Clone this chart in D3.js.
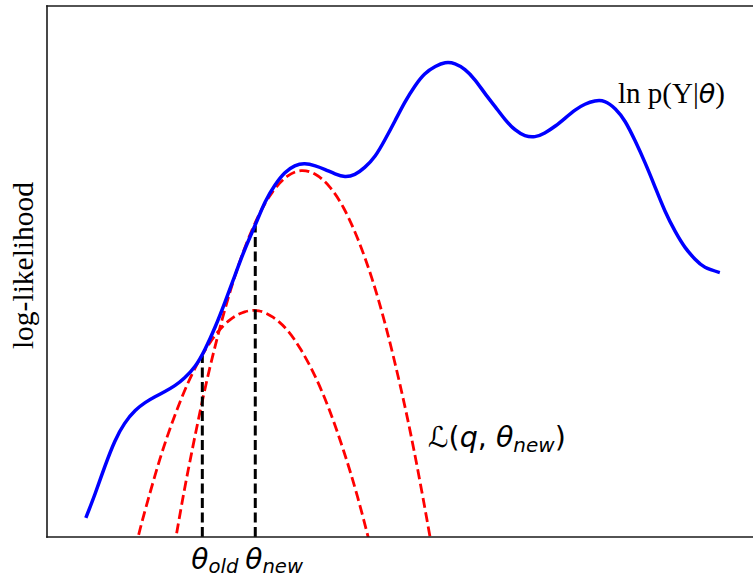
<!DOCTYPE html>
<html>
<head>
<meta charset="utf-8">
<script src="https://cdn.jsdelivr.net/npm/d3@7"></script>
<style>
  html, body { margin: 0; padding: 0; background: #fff; }
  svg { display: block; }
  .serif { font-family: "Liberation Serif", "Times New Roman", serif; }
  .math { font-family: "DejaVu Sans", sans-serif; }
</style>
</head>
<body>
<svg id="chart" width="753" height="578"></svg>
<script>
// Log-likelihood ln p(Y|θ) as a function of θ
const thetaLL = [0.55, 0.68, 0.82, 0.96, 1.10, 1.25, 1.39, 1.53, 1.67, 1.81,
  1.95, 2.10, 2.24, 2.38, 2.52, 2.66, 2.80, 2.95, 3.09, 3.23,
  3.37, 3.51, 3.65, 3.80, 3.94, 4.08, 4.22, 4.36, 4.50, 4.65,
  4.79, 4.93, 5.07, 5.21, 5.35, 5.50, 5.64, 5.78, 5.92, 6.06,
  6.20, 6.35, 6.49, 6.63, 6.77, 6.91, 7.05, 7.20, 7.34, 7.48,
  7.62, 7.76, 7.90, 8.05, 8.19, 8.33, 8.47, 8.61, 8.75, 8.90,
  9.04, 9.18, 9.32, 9.53];
const logLik = [0.36, 0.81, 1.33, 1.80, 2.14, 2.38, 2.53, 2.64, 2.74, 2.85,
  3.00, 3.22, 3.54, 3.95, 4.42, 4.92, 5.41, 5.88, 6.31, 6.63,
  6.86, 6.99, 7.03, 6.99, 6.92, 6.84, 6.79, 6.83, 6.96, 7.18,
  7.49, 7.84, 8.19, 8.49, 8.72, 8.86, 8.93, 8.91, 8.80, 8.61,
  8.36, 8.10, 7.86, 7.67, 7.56, 7.54, 7.61, 7.74, 7.89, 8.04,
  8.15, 8.21, 8.20, 8.06, 7.82, 7.46, 7.05, 6.60, 6.15, 5.75,
  5.45, 5.23, 5.08, 4.98];

// Lower bound touching the curve at θ_new
const thetaBoundNew = [1.70, 1.80, 1.90, 2.00, 2.20, 2.40, 2.60, 2.80, 3.00, 3.20,
  3.40, 3.60, 3.80, 4.00, 4.20, 4.40, 4.60, 4.80, 5.00, 5.20, 5.40, 5.50];
const boundNew = [-1.01, -0.21, 0.55, 1.26, 2.56, 3.69, 4.65, 5.44, 6.06, 6.51,
  6.79, 6.90, 6.83, 6.60, 6.20, 5.62, 4.88, 3.96, 2.87, 1.62, 0.19, -0.59];

// Lower bound touching the curve at θ_old
const thetaBoundOld = [1.20, 1.30, 1.40, 1.60, 1.80, 2.00, 2.20, 2.40, 2.60, 2.80,
  3.00, 3.20, 3.40, 3.60, 3.80, 4.00, 4.20, 4.40, 4.60];
const boundOld = [-0.49, 0.05, 0.55, 1.47, 2.25, 2.91, 3.43, 3.83, 4.10, 4.24,
  4.26, 4.14, 3.90, 3.52, 3.02, 2.39, 1.63, 0.75, -0.27];

// Parameter steps and the height where each meets the curve
const stepTheta = [2.20, 2.95];
const stepTop = [3.42, 5.86];
const stepNames = ["old", "new"];

(function draw() {
  const svg = d3.select("#chart");
  const mLeft = 47, mTop = 6, mBottom = 537, mRight = 753;

  const x = d3.scaleLinear().domain([0, 10]).range([mLeft, mRight]);
  const y = d3.scaleLinear().domain([0, 10]).range([mBottom, mTop]);

  svg.append("defs").append("clipPath").attr("id", "plotArea")
    .append("rect")
    .attr("x", mLeft).attr("y", mTop)
    .attr("width", mRight - mLeft + 20).attr("height", mBottom - mTop);

  const plot = svg.append("g").attr("clip-path", "url(#plotArea)");

  const line = d3.line()
    .x(d => x(d[0]))
    .y(d => y(d[1]))
    .curve(d3.curveNatural);

  // dashed lower bounds
  [[thetaBoundOld, boundOld], [thetaBoundNew, boundNew]].forEach(([xs, ys]) => {
    plot.append("path")
      .datum(xs.map((v, i) => [v, ys[i]]))
      .attr("d", line)
      .attr("fill", "none")
      .attr("stroke", "#ff0000")
      .attr("stroke-width", 2.8)
      .attr("stroke-dasharray", "10,4.5");
  });

  // vertical markers at θ_old and θ_new
  plot.selectAll("line.step")
    .data(stepTheta.map((t, i) => ({ t, top: stepTop[i] })))
    .enter().append("line")
    .attr("class", "step")
    .attr("x1", d => x(d.t)).attr("x2", d => x(d.t))
    .attr("y1", y(0)).attr("y2", d => y(d.top))
    .attr("stroke", "#000")
    .attr("stroke-width", 3)
    .attr("stroke-dasharray", "10,4.5");

  // log-likelihood curve
  plot.append("path")
    .datum(thetaLL.map((v, i) => [v, logLik[i]]))
    .attr("d", line)
    .attr("fill", "none")
    .attr("stroke", "#0000ff")
    .attr("stroke-width", 3.5)
    .attr("stroke-linejoin", "round")
    .attr("stroke-linecap", "butt");

  // frame
  const frame = svg.append("g").attr("stroke", "#1a1a1a").attr("stroke-width", 1.6)
    .attr("stroke-linecap", "square");
  frame.append("line").attr("x1", mLeft).attr("x2", mLeft).attr("y1", mTop).attr("y2", mBottom);
  frame.append("line").attr("x1", mLeft).attr("x2", mRight + 5).attr("y1", mTop).attr("y2", mTop);
  frame.append("line").attr("x1", mLeft).attr("x2", mRight + 5).attr("y1", mBottom).attr("y2", mBottom);

  // axis label
  svg.append("text")
    .attr("class", "serif")
    .attr("transform", `translate(33,${(mTop + mBottom) / 2 - 6}) rotate(-90)`)
    .attr("text-anchor", "middle")
    .attr("font-size", 29.5)
    .attr("fill", "#000")
    .text("log-likelihood");

  // curve label
  const curveLabel = svg.append("text")
    .attr("class", "serif")
    .attr("x", 618).attr("y", 103)
    .attr("font-size", 29)
    .attr("fill", "#000");
  curveLabel.append("tspan").text("ln p(Y|");
  curveLabel.append("tspan").attr("class", "math").attr("font-style", "italic")
    .attr("font-size", 27).text("θ");
  curveLabel.append("tspan").text(")");

  // θ labels under the axis
  stepTheta.forEach((t, i) => {
    const tx = svg.append("text")
      .attr("class", "math")
      .attr("x", x(t) - (i === 0 ? 11 : 10)).attr("y", 569)
      .attr("font-size", 28)
      .attr("font-style", "italic")
      .attr("fill", "#000");
    tx.append("tspan").text("θ");
    tx.append("tspan").attr("font-size", 19.6).attr("dy", 4).text(stepNames[i]);
  });

  // bound label
  const boundLabel = svg.append("text")
    .attr("class", "math")
    .attr("x", 428).attr("y", 447)
    .attr("font-size", 28.5)
    .attr("fill", "#000");
  boundLabel.append("tspan").text("ℒ(");
  boundLabel.append("tspan").attr("font-style", "italic").text("q");
  boundLabel.append("tspan").text(", ");
  boundLabel.append("tspan").attr("font-style", "italic").text("θ");
  boundLabel.append("tspan").attr("font-style", "italic").attr("font-size", 20).attr("dy", 5).text("new");
  boundLabel.append("tspan").attr("dy", -5).text(")");
})();
</script>
</body>
</html>
